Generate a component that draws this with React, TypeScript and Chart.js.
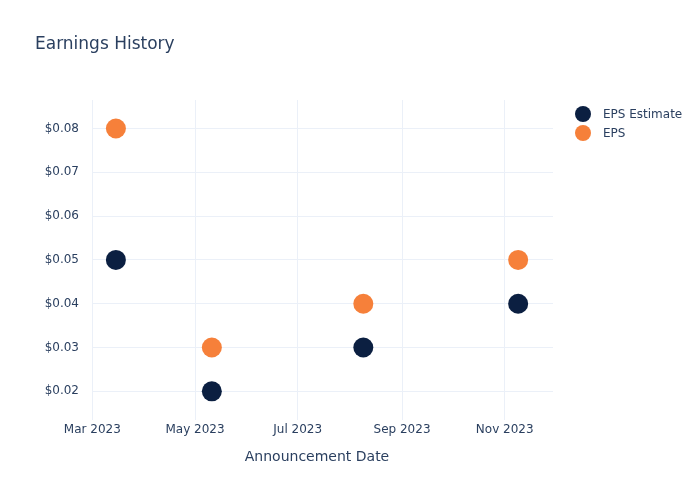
import React, { useEffect, useRef } from "react";
import { Chart, registerables } from "chart.js";

Chart.register(...registerables);

const DAY = 86400000;
const announcementDates = [
  Date.UTC(2023, 2, 15),
  Date.UTC(2023, 4, 11),
  Date.UTC(2023, 7, 9),
  Date.UTC(2023, 10, 9),
];
const epsEstimate = [0.05, 0.02, 0.03, 0.04];
const epsActual = [0.08, 0.03, 0.04, 0.05];
const xTickValues = [
  Date.UTC(2023, 2, 1),
  Date.UTC(2023, 4, 1),
  Date.UTC(2023, 6, 1),
  Date.UTC(2023, 8, 1),
  Date.UTC(2023, 10, 1),
];
const xTickLabels = ["Mar 2023", "May 2023", "Jul 2023", "Sep 2023", "Nov 2023"];
const yTickValues = [0.02, 0.03, 0.04, 0.05, 0.06, 0.07, 0.08];

const seriesNames = ["EPS Estimate", "EPS"];
const seriesColors = ["#0B1F41", "#F6803A"];

const FONT = "'DejaVu Sans', 'Open Sans', Verdana, sans-serif";
const TEXT = "#2a3f5f";
const GRID = "#EBF0F8";

const overlayPlugin = {
  id: "overlay",
  afterDraw(chart: any) {
    const ctx = chart.ctx;
    ctx.save();
    ctx.fillStyle = TEXT;
    ctx.font = `17px ${FONT}`;
    ctx.textAlign = "left";
    ctx.textBaseline = "middle";
    ctx.fillText("Earnings History", 35, 45);
    ctx.font = `14px ${FONT}`;
    ctx.textAlign = "center";
    ctx.fillText("Announcement Date", 317, 457);
    ctx.textAlign = "left";
    ctx.font = `12px ${FONT}`;
    seriesNames.forEach((name, i) => {
      const y = 114 + i * 19;
      ctx.beginPath();
      ctx.arc(583, y, 8, 0, Math.PI * 2);
      ctx.fillStyle = seriesColors[i];
      ctx.fill();
      ctx.fillStyle = TEXT;
      ctx.fillText(name, 603, y + 0.5);
    });
    ctx.restore();
  },
};

export default function App() {
  const ref = useRef<HTMLCanvasElement>(null);
  useEffect(() => {
    if (!ref.current) return;
    const chart = new Chart(ref.current, {
      type: "scatter",
      data: {
        datasets: [
          {
            label: seriesNames[0],
            data: announcementDates.map((d, i) => ({ x: d, y: epsEstimate[i] })),
            backgroundColor: seriesColors[0],
            borderColor: seriesColors[0],
            pointRadius: 10,
            pointHoverRadius: 10,
            borderWidth: 0,
          },
          {
            label: seriesNames[1],
            data: announcementDates.map((d, i) => ({ x: d, y: epsActual[i] })),
            backgroundColor: seriesColors[1],
            borderColor: seriesColors[1],
            pointRadius: 10,
            pointHoverRadius: 10,
            borderWidth: 0,
          },
        ],
      },
      options: {
        responsive: false,
        animation: false,
        layout: { padding: { left: 0, top: 100, right: 147, bottom: 0 } },
        plugins: {
          legend: { display: false },
          title: { display: false },
          tooltip: { enabled: false },
        },
        scales: {
          x: {
            type: "linear",
            min: Date.UTC(2023, 2, 1) - 0.2 * DAY,
            max: Date.UTC(2023, 2, 1) + 273.7 * DAY,
            afterFit: (s: any) => {
              s.height = 80;
            },
            afterBuildTicks: (s: any) => {
              s.ticks = xTickValues.map((v) => ({ value: v }));
            },
            grid: { color: GRID, drawTicks: false, lineWidth: 1 },
            border: { display: false },
            ticks: {
              padding: 3,
              color: TEXT,
              font: { family: FONT, size: 12 },
              maxRotation: 0,
              autoSkip: false,
              callback: (v: any) => {
                const i = xTickValues.indexOf(Number(v));
                return i >= 0 ? xTickLabels[i] : "";
              },
            },
            title: { display: false },
          },
          y: {
            min: 0.01345,
            max: 0.0865,
            afterFit: (s: any) => {
              s.width = 92;
            },
            afterBuildTicks: (s: any) => {
              s.ticks = yTickValues.map((v) => ({ value: v }));
            },
            grid: { color: GRID, drawTicks: false, lineWidth: 1 },
            border: { display: false },
            ticks: {
              padding: 13,
              color: TEXT,
              font: { family: FONT, size: 12 },
              callback: (v: any) => "$" + Number(v).toFixed(2),
            },
          },
        },
      },
      plugins: [overlayPlugin],
    });
    return () => chart.destroy();
  }, []);
  return (
    <div style={{ position: "absolute", left: 0, top: 0, width: 700, height: 500, background: "#fff" }}>
      <canvas ref={ref} width={700} height={500} style={{ display: "block" }} />
    </div>
  );
}
